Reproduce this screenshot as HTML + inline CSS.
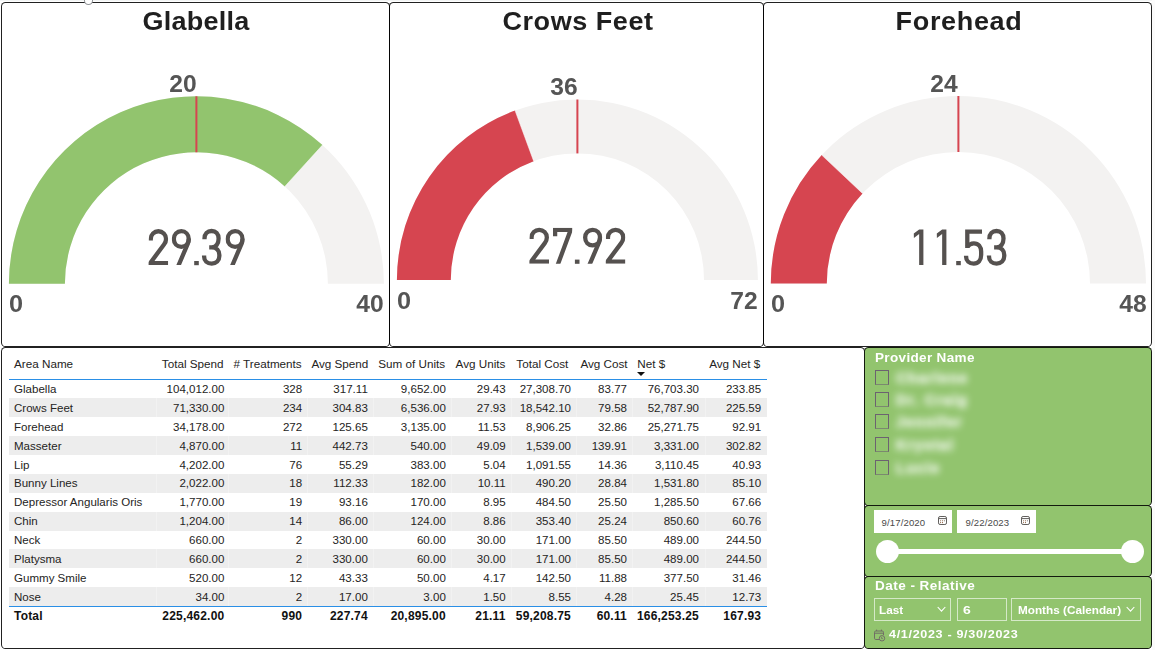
<!DOCTYPE html>
<html><head><meta charset="utf-8"><title>Dashboard</title>
<style>
html,body{margin:0;padding:0}
body{width:1155px;height:650px;position:relative;overflow:hidden;background:#fff;font-family:"Liberation Sans",sans-serif;color:#252423}
.strip-t{position:absolute;left:0;top:0;width:1155px;height:1px;background:#f3f5f5}
.strip-r{position:absolute;left:1152px;top:0;width:3px;height:650px;background:#fbfbfb}
.p{position:absolute;box-sizing:border-box;border:1px solid rgba(0,0,0,.87);border-radius:4.6px;background:#fff;background-clip:padding-box}
.g{background:#92C46E}
.gsvg{position:absolute;left:0;top:0}
.title{position:absolute;top:5.5px;width:300px;margin-left:-150px;text-align:center;font-weight:bold;font-size:25.5px;line-height:30px;color:#1f1f1f;white-space:nowrap;transform:scaleX(1.06);transform-origin:50% 50%}
.lab{position:absolute;font-weight:bold;font-size:23px;line-height:24px;color:#555;white-space:nowrap}
.ll{transform:scaleX(1.1);transform-origin:0 50%}
.lr{transform:scaleX(1.07);transform-origin:100% 50%}
.val{position:absolute;width:300px;margin-left:-150px;text-align:center;font-size:52px;line-height:52px;color:#56524f;white-space:nowrap;transform:scaleX(.775);transform-origin:50% 50%}
.th{position:absolute;top:357px;font-size:11.7px;line-height:14px;white-space:nowrap;color:#252423}
.bl{position:absolute;left:9px;width:758px;height:1px;background:#2a8fe6}
.tr{position:absolute;left:9px;width:758px;height:18.88px;font-size:11.55px;line-height:18.88px;white-space:nowrap;color:#252423}
.tr.alt{background:#ededed}
.tr .c0{position:absolute;left:5px;top:0.5px}
.tr .cr{position:absolute;top:0.5px;text-align:right}
.seam{position:absolute;top:380px;height:226px;width:1px;background:rgba(255,255,255,.3)}
.tot{font-weight:bold;color:#111;font-size:12px;letter-spacing:.2px}
.sort{position:absolute;left:637px;top:372px;width:0;height:0;border-left:4px solid transparent;border-right:4px solid transparent;border-top:4px solid #111}
.st{position:absolute;color:#fff;font-weight:bold;font-size:12.3px;line-height:14px;letter-spacing:.3px;white-space:nowrap;transform:scaleX(1.1);transform-origin:0 50%}
.cb{position:absolute;left:875px;width:14px;height:15px;box-sizing:border-box;border:1px solid #6c6270;border-bottom-color:rgba(108,98,112,.6)}
.nm{position:absolute;left:896px;color:#fff;font-weight:bold;font-size:14.5px;line-height:16px;opacity:.82;filter:blur(3.7px);-webkit-text-stroke:.8px #fff;white-space:nowrap;letter-spacing:1.3px}
.inp{position:absolute;top:510px;height:23px;width:78px;background:#fff;font-size:9.6px;line-height:23px;color:#4a4a4a}
.inp span{position:absolute;left:7.5px;top:0.5px;letter-spacing:.12px}
.inp .cal{position:absolute;left:62.7px;top:4.5px}
.track{position:absolute;left:888px;top:549px;width:245px;height:4.5px;background:#fff}
.knob{position:absolute;top:539.5px;width:23.6px;height:23.6px;border-radius:50%;background:#fff}
.box{position:absolute;top:598px;height:23px;box-sizing:border-box;border:1px solid rgba(255,255,255,.62);color:#fff;font-weight:bold;font-size:10.4px;line-height:21px;white-space:nowrap}
.box span{position:absolute;top:0.5px;transform:scaleX(1.13);transform-origin:0 50%}
.chev{position:absolute;top:7px}
</style></head><body>
<div class="strip-t"></div><div class="strip-r"></div>
<div class="p" style="left:1px;top:2px;width:389px;height:345px"></div>
<div class="p" style="left:389px;top:2px;width:375px;height:345px"></div>
<div class="p" style="left:763px;top:2px;width:389px;height:345px"></div>
<div class="p" style="left:1px;top:347px;width:864px;height:302px"></div>
<div class="p g" style="left:864px;top:347px;width:288px;height:159px"></div>
<div class="p g" style="left:864px;top:505px;width:288px;height:72px"></div>
<div class="p g" style="left:864px;top:576px;width:288px;height:73px"></div>
<div style="position:absolute;left:84.2px;top:-4.1px;width:8.8px;height:8.8px;box-sizing:border-box;border:.8px solid rgba(90,95,102,.65);border-radius:50%;background:#fff"></div>
<svg class="gsvg" width="1155" height="350" viewBox="0 0 1155 350">
<path d="M8.90 283.80 A187.5 187.5 0 0 1 383.90 283.80 L327.90 283.80 A131.5 131.5 0 0 0 64.90 283.80 Z" fill="#F3F2F1"/>
<path d="M8.90 283.80 A187.5 187.5 0 0 1 322.48 145.02 L284.82 186.47 A131.5 131.5 0 0 0 64.90 283.80 Z" fill="#92C46E"/>
<line x1="322.48" y1="145.02" x2="284.82" y2="186.47" stroke="#fff" stroke-width=".7" stroke-opacity=".75"/>
<rect x="195.40" y="96.30" width="2" height="56.00" fill="#D64550"/>
<path d="M396.90 280.00 A180.5 180.5 0 0 1 757.90 280.00 L704.00 280.00 A126.6 126.6 0 0 0 450.80 280.00 Z" fill="#F3F2F1"/>
<path d="M396.90 280.00 A180.5 180.5 0 0 1 515.07 110.60 L533.69 161.19 A126.6 126.6 0 0 0 450.80 280.00 Z" fill="#D64550"/>
<line x1="515.07" y1="110.60" x2="533.69" y2="161.19" stroke="#fff" stroke-width=".7" stroke-opacity=".75"/>
<rect x="576.40" y="99.50" width="2" height="53.90" fill="#D64550"/>
<path d="M770.80 283.60 A187.6 187.6 0 0 1 1146.00 283.60 L1090.00 283.60 A131.6 131.6 0 0 0 826.80 283.60 Z" fill="#F3F2F1"/>
<path d="M770.80 283.60 A187.6 187.6 0 0 1 821.73 155.09 L862.53 193.45 A131.6 131.6 0 0 0 826.80 283.60 Z" fill="#D64550"/>
<line x1="821.73" y1="155.09" x2="862.53" y2="193.45" stroke="#fff" stroke-width=".7" stroke-opacity=".75"/>
<rect x="957.40" y="96.00" width="2" height="56.00" fill="#D64550"/>
</svg>
<div class="title" style="left:196.2px;letter-spacing:.2px">Glabella</div>
<div class="title" style="left:578.1px;letter-spacing:.5px">Crows Feet</div>
<div class="title" style="left:958.7px;letter-spacing:.6px">Forehead</div>

<div class="lab lr" style="right:958.5px;top:71.5px">20</div>
<div class="lab lr" style="right:577.5px;top:74.5px">36</div>
<div class="lab lr" style="right:197.1px;top:71.5px">24</div>
<div class="lab ll" style="left:8.5px;top:292px">0</div>
<div class="lab lr" style="right:771px;top:292px">40</div>
<div class="lab ll" style="left:397px;top:288.5px">0</div>
<div class="lab lr" style="right:397.3px;top:288.5px">72</div>
<div class="lab ll" style="left:770.5px;top:292px">0</div>
<div class="lab lr" style="right:8.5px;top:292px">48</div>

<svg class="gsvg" width="1155" height="350" viewBox="0 0 1155 350"><defs><clipPath id="dclip2"><rect x="0" y="-1" width="19.6" height="37"/></clipPath><clipPath id="dclip9"><rect x="0" y="-1" width="19.3" height="37"/></clipPath><clipPath id="dclip7"><rect x="0" y="0" width="19.2" height="36"/></clipPath></defs>
<g transform="translate(148.60 229.10)" clip-path="url(#dclip2)" fill="none" stroke="#55514f" stroke-width="4.3" stroke-linejoin="miter" stroke-miterlimit="6"><path d="M2.15 11.3 V9.8 A7.65 7.65 0 0 1 17.45 9.8 C17.45 12.4 16.7 13.7 15.4 15.4 L1.55 34.0 H19.6"/></g>
<g transform="translate(171.70 229.10)" clip-path="url(#dclip9)" fill="none" stroke="#55514f" stroke-width="4.3" stroke-linejoin="miter" stroke-miterlimit="6"><path d="M9.6 2.1 C13.9 2.1 17.05 5.3 17.05 9.9 C17.05 14.5 13.9 17.7 9.6 17.7 C5.3 17.7 2.15 14.5 2.15 9.9 C2.15 5.3 5.3 2.1 9.6 2.1 Z"/><path d="M17.05 9.6 C17.05 12.2 16.7 13 16.1 14.5 L6.1 38"/></g>
<rect x="194.20" y="261.00" width="4.6" height="4.2" fill="#55514f"/>
<g transform="translate(201.90 229.10)" fill="none" stroke="#55514f" stroke-width="4.3" stroke-linejoin="miter" stroke-miterlimit="6"><path d="M2.6 10.1 V9.4 C2.6 4.9 5.5 1.9 9.7 1.9 C13.9 1.9 16.7 4.9 16.7 9.5 C16.7 14.6 14 18.3 9.8 18.3 H7.3 M9.8 18.3 C14.6 18.3 17.45 21.6 17.45 26 V27 C17.45 31.6 14.3 34.5 9.8 34.5 C5.3 34.5 2.2 31.8 2.2 27.4 V26.5"/></g>
<g transform="translate(225.50 229.10)" clip-path="url(#dclip9)" fill="none" stroke="#55514f" stroke-width="4.3" stroke-linejoin="miter" stroke-miterlimit="6"><path d="M9.6 2.1 C13.9 2.1 17.05 5.3 17.05 9.9 C17.05 14.5 13.9 17.7 9.6 17.7 C5.3 17.7 2.15 14.5 2.15 9.9 C2.15 5.3 5.3 2.1 9.6 2.1 Z"/><path d="M17.05 9.6 C17.05 12.2 16.7 13 16.1 14.5 L6.1 38"/></g>
<g transform="translate(529.40 227.70)" clip-path="url(#dclip2)" fill="none" stroke="#55514f" stroke-width="4.3" stroke-linejoin="miter" stroke-miterlimit="6"><path d="M2.15 11.3 V9.8 A7.65 7.65 0 0 1 17.45 9.8 C17.45 12.4 16.7 13.7 15.4 15.4 L1.55 34.0 H19.6"/></g>
<g transform="translate(553.00 227.70)" clip-path="url(#dclip7)" fill="none" stroke="#55514f" stroke-width="4.3" stroke-linejoin="miter" stroke-miterlimit="6"><path d="M2.1 8.6 V2.15 H17.7 L4.4 38"/></g>
<rect x="574.90" y="259.60" width="4.6" height="4.2" fill="#55514f"/>
<g transform="translate(583.00 227.70)" clip-path="url(#dclip9)" fill="none" stroke="#55514f" stroke-width="4.3" stroke-linejoin="miter" stroke-miterlimit="6"><path d="M9.6 2.1 C13.9 2.1 17.05 5.3 17.05 9.9 C17.05 14.5 13.9 17.7 9.6 17.7 C5.3 17.7 2.15 14.5 2.15 9.9 C2.15 5.3 5.3 2.1 9.6 2.1 Z"/><path d="M17.05 9.6 C17.05 12.2 16.7 13 16.1 14.5 L6.1 38"/></g>
<g transform="translate(605.80 227.70)" clip-path="url(#dclip2)" fill="none" stroke="#55514f" stroke-width="4.3" stroke-linejoin="miter" stroke-miterlimit="6"><path d="M2.15 11.3 V9.8 A7.65 7.65 0 0 1 17.45 9.8 C17.45 12.4 16.7 13.7 15.4 15.4 L1.55 34.0 H19.6"/></g>
<path transform="translate(913.80 229.10)" d="M0 4.5 L5.35 0.3 H9.6 V36 H5.35 V4.8 L0.1 8.9 Z" fill="#55514f"/>
<path transform="translate(936.80 229.10)" d="M0 4.5 L5.35 0.3 H9.6 V36 H5.35 V4.8 L0.1 8.9 Z" fill="#55514f"/>
<rect x="956.20" y="261.00" width="4.6" height="4.2" fill="#55514f"/>
<g transform="translate(963.90 229.10)" fill="none" stroke="#55514f" stroke-width="4.3" stroke-linejoin="miter" stroke-miterlimit="6"><path d="M18.1 2.5 H3.4 V18.8"/><path d="M3.4 17.8 C4.9 15.4 7.2 14.2 10 14.2 C14.5 14.2 17.25 17.5 17.25 22.5 V26 C17.25 31.5 14.3 34.5 9.8 34.5 C5.2 34.5 2.2 31.8 2.2 27.6 V26.7"/></g>
<g transform="translate(986.80 229.10)" fill="none" stroke="#55514f" stroke-width="4.3" stroke-linejoin="miter" stroke-miterlimit="6"><path d="M2.6 10.1 V9.4 C2.6 4.9 5.5 1.9 9.7 1.9 C13.9 1.9 16.7 4.9 16.7 9.5 C16.7 14.6 14 18.3 9.8 18.3 H7.3 M9.8 18.3 C14.6 18.3 17.45 21.6 17.45 26 V27 C17.45 31.6 14.3 34.5 9.8 34.5 C5.3 34.5 2.2 31.8 2.2 27.4 V26.5"/></g>
</svg>

<div class="th" style="left:14px">Area Name</div>
<div class="th" style="left:161.8px">Total Spend</div>
<div class="th" style="left:233.5px"># Treatments</div>
<div class="th" style="left:311.4px">Avg Spend</div>
<div class="th" style="left:378.3px">Sum of Units</div>
<div class="th" style="left:455.6px">Avg Units</div>
<div class="th" style="left:516.3px">Total Cost</div>
<div class="th" style="left:580.4px">Avg Cost</div>
<div class="th" style="left:637.3px">Net $</div>
<div class="th" style="left:709.2px">Avg Net $</div>
<div class="sort"></div>
<div class="bl" style="top:379px"></div>
<div class="tr" style="top:379.50px"><span class="c0">Glabella</span><span class="cr" style="right:542.6px">104,012.00</span><span class="cr" style="right:464.8px">328</span><span class="cr" style="right:399.2px">317.11</span><span class="cr" style="right:321.2px">9,652.00</span><span class="cr" style="right:261.3px">29.43</span><span class="cr" style="right:196.0px">27,308.70</span><span class="cr" style="right:140.0px">83.77</span><span class="cr" style="right:68.0px">76,703.30</span><span class="cr" style="right:5.8px">233.85</span></div>
<div class="tr alt" style="top:398.38px"><span class="c0">Crows Feet</span><span class="cr" style="right:542.6px">71,330.00</span><span class="cr" style="right:464.8px">234</span><span class="cr" style="right:399.2px">304.83</span><span class="cr" style="right:321.2px">6,536.00</span><span class="cr" style="right:261.3px">27.93</span><span class="cr" style="right:196.0px">18,542.10</span><span class="cr" style="right:140.0px">79.58</span><span class="cr" style="right:68.0px">52,787.90</span><span class="cr" style="right:5.8px">225.59</span></div>
<div class="tr" style="top:417.26px"><span class="c0">Forehead</span><span class="cr" style="right:542.6px">34,178.00</span><span class="cr" style="right:464.8px">272</span><span class="cr" style="right:399.2px">125.65</span><span class="cr" style="right:321.2px">3,135.00</span><span class="cr" style="right:261.3px">11.53</span><span class="cr" style="right:196.0px">8,906.25</span><span class="cr" style="right:140.0px">32.86</span><span class="cr" style="right:68.0px">25,271.75</span><span class="cr" style="right:5.8px">92.91</span></div>
<div class="tr alt" style="top:436.14px"><span class="c0">Masseter</span><span class="cr" style="right:542.6px">4,870.00</span><span class="cr" style="right:464.8px">11</span><span class="cr" style="right:399.2px">442.73</span><span class="cr" style="right:321.2px">540.00</span><span class="cr" style="right:261.3px">49.09</span><span class="cr" style="right:196.0px">1,539.00</span><span class="cr" style="right:140.0px">139.91</span><span class="cr" style="right:68.0px">3,331.00</span><span class="cr" style="right:5.8px">302.82</span></div>
<div class="tr" style="top:455.02px"><span class="c0">Lip</span><span class="cr" style="right:542.6px">4,202.00</span><span class="cr" style="right:464.8px">76</span><span class="cr" style="right:399.2px">55.29</span><span class="cr" style="right:321.2px">383.00</span><span class="cr" style="right:261.3px">5.04</span><span class="cr" style="right:196.0px">1,091.55</span><span class="cr" style="right:140.0px">14.36</span><span class="cr" style="right:68.0px">3,110.45</span><span class="cr" style="right:5.8px">40.93</span></div>
<div class="tr alt" style="top:473.90px"><span class="c0">Bunny Lines</span><span class="cr" style="right:542.6px">2,022.00</span><span class="cr" style="right:464.8px">18</span><span class="cr" style="right:399.2px">112.33</span><span class="cr" style="right:321.2px">182.00</span><span class="cr" style="right:261.3px">10.11</span><span class="cr" style="right:196.0px">490.20</span><span class="cr" style="right:140.0px">28.84</span><span class="cr" style="right:68.0px">1,531.80</span><span class="cr" style="right:5.8px">85.10</span></div>
<div class="tr" style="top:492.78px"><span class="c0">Depressor Angularis Oris</span><span class="cr" style="right:542.6px">1,770.00</span><span class="cr" style="right:464.8px">19</span><span class="cr" style="right:399.2px">93.16</span><span class="cr" style="right:321.2px">170.00</span><span class="cr" style="right:261.3px">8.95</span><span class="cr" style="right:196.0px">484.50</span><span class="cr" style="right:140.0px">25.50</span><span class="cr" style="right:68.0px">1,285.50</span><span class="cr" style="right:5.8px">67.66</span></div>
<div class="tr alt" style="top:511.66px"><span class="c0">Chin</span><span class="cr" style="right:542.6px">1,204.00</span><span class="cr" style="right:464.8px">14</span><span class="cr" style="right:399.2px">86.00</span><span class="cr" style="right:321.2px">124.00</span><span class="cr" style="right:261.3px">8.86</span><span class="cr" style="right:196.0px">353.40</span><span class="cr" style="right:140.0px">25.24</span><span class="cr" style="right:68.0px">850.60</span><span class="cr" style="right:5.8px">60.76</span></div>
<div class="tr" style="top:530.54px"><span class="c0">Neck</span><span class="cr" style="right:542.6px">660.00</span><span class="cr" style="right:464.8px">2</span><span class="cr" style="right:399.2px">330.00</span><span class="cr" style="right:321.2px">60.00</span><span class="cr" style="right:261.3px">30.00</span><span class="cr" style="right:196.0px">171.00</span><span class="cr" style="right:140.0px">85.50</span><span class="cr" style="right:68.0px">489.00</span><span class="cr" style="right:5.8px">244.50</span></div>
<div class="tr alt" style="top:549.42px"><span class="c0">Platysma</span><span class="cr" style="right:542.6px">660.00</span><span class="cr" style="right:464.8px">2</span><span class="cr" style="right:399.2px">330.00</span><span class="cr" style="right:321.2px">60.00</span><span class="cr" style="right:261.3px">30.00</span><span class="cr" style="right:196.0px">171.00</span><span class="cr" style="right:140.0px">85.50</span><span class="cr" style="right:68.0px">489.00</span><span class="cr" style="right:5.8px">244.50</span></div>
<div class="tr" style="top:568.30px"><span class="c0">Gummy Smile</span><span class="cr" style="right:542.6px">520.00</span><span class="cr" style="right:464.8px">12</span><span class="cr" style="right:399.2px">43.33</span><span class="cr" style="right:321.2px">50.00</span><span class="cr" style="right:261.3px">4.17</span><span class="cr" style="right:196.0px">142.50</span><span class="cr" style="right:140.0px">11.88</span><span class="cr" style="right:68.0px">377.50</span><span class="cr" style="right:5.8px">31.46</span></div>
<div class="tr alt" style="top:587.18px"><span class="c0">Nose</span><span class="cr" style="right:542.6px">34.00</span><span class="cr" style="right:464.8px">2</span><span class="cr" style="right:399.2px">17.00</span><span class="cr" style="right:321.2px">3.00</span><span class="cr" style="right:261.3px">1.50</span><span class="cr" style="right:196.0px">8.55</span><span class="cr" style="right:140.0px">4.28</span><span class="cr" style="right:68.0px">25.45</span><span class="cr" style="right:5.8px">12.73</span></div>
<div class="seam" style="left:156px"></div>
<div class="seam" style="left:228px"></div>
<div class="seam" style="left:307px"></div>
<div class="seam" style="left:373px"></div>
<div class="seam" style="left:451px"></div>
<div class="seam" style="left:511px"></div>
<div class="seam" style="left:576px"></div>
<div class="seam" style="left:632px"></div>
<div class="seam" style="left:705px"></div>
<div class="bl" style="top:606px"></div>
<div class="tr tot" style="top:606px"><span class="c0">Total</span><span class="cr" style="right:542.6px">225,462.00</span><span class="cr" style="right:464.8px">990</span><span class="cr" style="right:399.2px">227.74</span><span class="cr" style="right:321.2px">20,895.00</span><span class="cr" style="right:261.3px">21.11</span><span class="cr" style="right:196.0px">59,208.75</span><span class="cr" style="right:140.0px">60.11</span><span class="cr" style="right:68.0px">166,253.25</span><span class="cr" style="right:5.8px">167.93</span></div>

<div class="st" style="left:875px;top:350.5px">Provider Name</div>
<div class="cb" style="top:370.0px"></div><div class="nm" style="top:370.0px">Charlene</div>
<div class="cb" style="top:392.0px"></div><div class="nm" style="top:392.0px">Dr. Craig</div>
<div class="cb" style="top:414.0px"></div><div class="nm" style="top:414.0px">Jennifer</div>
<div class="cb" style="top:437.0px"></div><div class="nm" style="top:437.0px">Krystal</div>
<div class="cb" style="top:460.0px"></div><div class="nm" style="top:460.0px">Lucie</div>

<div class="inp" style="left:874px"><span>9/17/2020</span><svg class="cal" width="11" height="11" viewBox="0 0 11 11"><rect x="1.5" y="1.5" width="8" height="8" rx="1.6" fill="none" stroke="#605E5C" stroke-width="1"/><line x1="1.5" y1="3.6" x2="9.5" y2="3.6" stroke="#605E5C" stroke-width="1"/><circle cx="3.6" cy="5.7" r=".55" fill="#8a5a3a"/><circle cx="5.5" cy="5.7" r=".55" fill="#8a5a3a"/><circle cx="7.4" cy="5.7" r=".55" fill="#605E5C"/><circle cx="3.6" cy="7.6" r=".55" fill="#8a5a3a"/><circle cx="5.5" cy="7.6" r=".55" fill="#8a5a3a"/></svg></div>
<div class="inp" style="left:957px;width:79px"><span style="left:8.5px">9/22/2023</span><svg class="cal" style="left:63.4px" width="11" height="11" viewBox="0 0 11 11"><rect x="1.5" y="1.5" width="8" height="8" rx="1.6" fill="none" stroke="#605E5C" stroke-width="1"/><line x1="1.5" y1="3.6" x2="9.5" y2="3.6" stroke="#605E5C" stroke-width="1"/><circle cx="3.6" cy="5.7" r=".55" fill="#8a5a3a"/><circle cx="5.5" cy="5.7" r=".55" fill="#8a5a3a"/><circle cx="7.4" cy="5.7" r=".55" fill="#605E5C"/><circle cx="3.6" cy="7.6" r=".55" fill="#8a5a3a"/><circle cx="5.5" cy="7.6" r=".55" fill="#8a5a3a"/></svg></div>
<div class="track"></div>
<div class="knob" style="left:875.8px"></div>
<div class="knob" style="left:1120.7px"></div>

<div class="st" style="left:874.5px;top:578.5px;letter-spacing:.42px">Date - Relative</div>
<div class="box" style="left:874px;width:77px"><span style="left:4.3px">Last</span>
<svg class="chev" style="left:61.5px" width="9" height="7" viewBox="0 0 9 7"><path d="M.7 1 L4.5 5.2 L8.3 1" fill="none" stroke="#fff" stroke-width="1.1"/></svg></div>
<div class="box" style="left:957px;width:50px"><span style="left:4.6px;font-size:11.2px;transform:scaleX(1.25)">6</span></div>
<div class="box" style="left:1011px;width:130px"><span style="left:5.8px">Months (Calendar)</span>
<svg class="chev" style="left:114.3px" width="9" height="7" viewBox="0 0 9 7"><path d="M.7 1 L4.5 5.2 L8.3 1" fill="none" stroke="#fff" stroke-width="1.1"/></svg></div>
<svg style="position:absolute;left:873px;top:628px" width="14" height="15" viewBox="0 0 14 15">
<g fill="none" stroke="#6b5f64" stroke-width="1" opacity=".85">
<path d="M7 11.5 H2.8 Q1.5 11.5 1.5 10.2 V4.3 Q1.5 3 2.8 3 H9.2 Q10.5 3 10.5 4.3 V7"/>
<line x1="1.5" y1="5.2" x2="10.5" y2="5.2"/>
<line x1="3.6" y1="1.6" x2="3.6" y2="3"/><line x1="8.4" y1="1.6" x2="8.4" y2="3"/>
<circle cx="9" cy="10.3" r="2.7"/>
<path d="M8.6 9 V10.6 H9.9" stroke-width=".8"/>
</g></svg>
<div class="st" style="left:889px;top:627.5px;font-size:10.3px;letter-spacing:.55px;transform:scaleX(1.22)">4/1/2023 - 9/30/2023</div>
</body></html>
